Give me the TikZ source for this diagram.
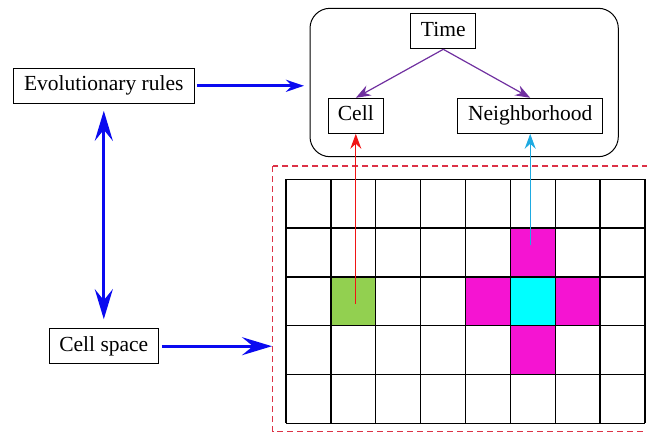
\documentclass[tikz,border=0pt]{standalone}
\usepackage{fontspec}
\setmainfont{Liberation Serif}
\usetikzlibrary{arrows.meta}
\definecolor{ruleblue}{RGB}{10,10,240}
\definecolor{timepurple}{RGB}{112,48,160}
\definecolor{linkred}{RGB}{240,20,20}
\definecolor{linkcyan}{RGB}{30,170,225}
\definecolor{cellgreen}{RGB}{146,208,80}
\definecolor{nbmagenta}{RGB}{245,20,210}
\definecolor{nbcyan}{RGB}{0,255,255}
\definecolor{framered}{RGB}{220,50,70}
\tikzset{
    box/.style={draw,line width=1pt,fill=white,font=\fontsize{21.5}{25}\selectfont,inner sep=0pt,minimum height=35pt,text height=14.5pt,text depth=4.5pt},
    bigarrow/.style={ruleblue,line width=3pt,-{Stealth[length=30pt,width=18pt,inset=11pt]}},
    thinarrow/.style={line width=1.2pt,-{Stealth[length=15pt,width=11pt,inset=5pt]}}
}
\begin{document}
\begin{tikzpicture}[x=1pt,y=1pt]
                \useasboundingbox (0,0) rectangle (647,-432);
                \draw[line width=1pt,rounded corners=20pt] (310,-8.3) rectangle (618.3,-156.7);
                \draw[framered,line width=1.2pt,dash pattern=on 6pt off 4pt] (272.7,-166) rectangle (660,-431.5);
                \begin{scope}[shift={(286,-179.3)},x=44.875pt,y=-48.8pt]
                    \fill[cellgreen] (1,2) rectangle (2,3);
                    \fill[nbmagenta] (5,1) rectangle (6,2);
                    \fill[nbmagenta] (4,2) rectangle (5,3);
                    \fill[nbmagenta] (6,2) rectangle (7,3);
                    \fill[nbmagenta] (5,3) rectangle (6,4);
                    \fill[nbcyan] (5,2) rectangle (6,3);
                    \foreach \i in {0,1,...,8}
                    {
                        \draw[line width=1.3pt] (\i,0) -- (\i,5);
                    }
                    \foreach \i in {0,1,...,5}
                    {
                        \draw[line width=1.3pt] (0,\i) -- (8,\i);
                    }
                    \coordinate (greenmid) at (1.5,2.55);
                    \coordinate (cyanmid) at (5.5,1.35);
                \end{scope}
                \node[box,minimum width=181pt] (evo) at (103.8,-85.8) {Evolutionary rules};
                \node[box,minimum width=109pt] (cellsp) at (103.8,-346.2) {Cell space};
                \node[box,minimum width=65pt] (time) at (443.3,-31.3) {Time};
                \node[box,minimum width=55pt] (cell) at (355.8,-115.8) {Cell};
                \node[box,minimum width=145pt] (neigh) at (530.2,-115.8) {Neighborhood};
                \coordinate (rulesin) at (304,-85.8);
                \coordinate (framein) at (272,-346.2);
                \draw[bigarrow,-{Stealth[length=18pt,width=12pt,inset=6pt]},shorten <=2pt] (evo.east) -- (rulesin);
                \draw[bigarrow,{Stealth[length=30pt,width=18pt,inset=11pt]}-{Stealth[length=30pt,width=18pt,inset=11pt]},shorten <=7pt,shorten >=9pt] (evo.south) -- (cellsp.north);
                \draw[bigarrow,shorten <=3pt] (cellsp.east) -- (framein);
                \draw[thinarrow,timepurple] (time.south) -- (cell.north);
                \draw[thinarrow,timepurple] (time.south) -- (neigh.north);
                \draw[thinarrow,linkred] (cell.south |- greenmid) -- (cell.south);
                \draw[thinarrow,linkcyan] (neigh.south |- cyanmid) -- (neigh.south);
            \end{tikzpicture}
\end{document}
